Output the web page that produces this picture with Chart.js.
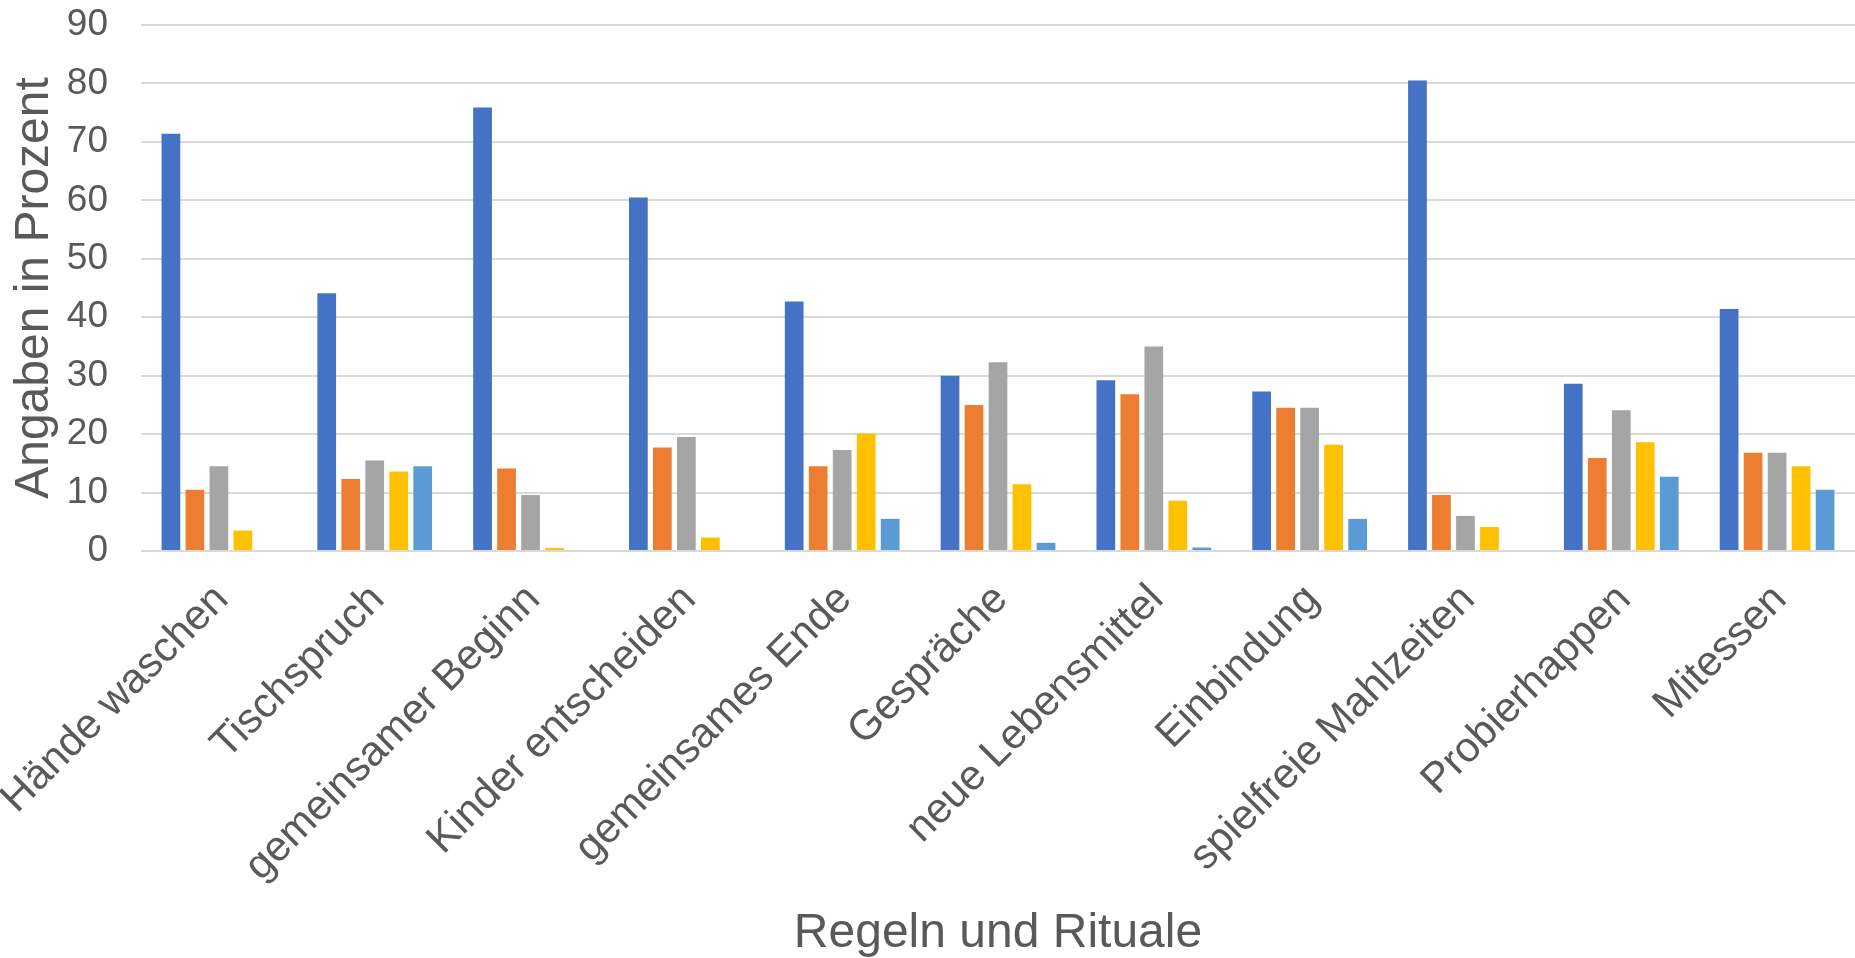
<!DOCTYPE html>
<html>
<head>
<meta charset="utf-8">
<script src="https://cdn.jsdelivr.net/npm/chart.js@4"></script>
<style>
  html, body { margin: 0; padding: 0; background: #fff; }
  #wrap { width: 1855px; height: 958px; position: relative; }
</style>
</head>
<body>
<div id="wrap"><canvas id="chart"></canvas></div>
<script>
  // Werte in Prozent, pro Kategorie fuenf Balken
  const categories = [
    "Hände waschen", "Tischspruch", "gemeinsamer Beginn", "Kinder entscheiden",
    "gemeinsames Ende", "Gespräche", "neue Lebensmittel", "Einbindung",
    "spielfreie Mahlzeiten", "Probierhappen", "Mitessen"
  ];
  const series1 = [71.4, 44.1, 75.9, 60.5, 42.7, 30.0, 29.2, 27.3, 80.5, 28.6, 41.4];
  const series2 = [10.5, 12.3, 14.1, 17.7, 14.5, 25.0, 26.8, 24.5, 9.6, 15.9, 16.8];
  const series3 = [14.5, 15.5, 9.6, 19.5, 17.3, 32.3, 35.0, 24.5, 6.0, 24.1, 16.8];
  const series4 = [3.5, 13.6, 0.5, 2.3, 20.1, 11.4, 8.6, 18.2, 4.1, 18.6, 14.5];
  const series5 = [0, 14.5, 0, 0, 5.5, 1.4, 0.6, 5.5, 0, 12.7, 10.5];
  const seriesNames = ["Reihe 1", "Reihe 2", "Reihe 3", "Reihe 4", "Reihe 5"];
  const seriesColors = ["#4472C4", "#ED7D31", "#A5A5A5", "#FFC000", "#5B9BD5"];

  const FONT = "'Liberation Sans', Arial, sans-serif";
  const TEXT = "#595959";

  const allSeries = [series1, series2, series3, series4, series5];

  new Chart(document.getElementById("chart"), {
    type: "bar",
    data: {
      labels: categories,
      datasets: allSeries.map(function (values, i) {
        return {
          label: seriesNames[i],
          data: values,
          backgroundColor: seriesColors[i],
          borderWidth: 0,
          barPercentage: 0.78,
          categoryPercentage: 0.77,
        };
      }),
    },
    options: {
      responsive: true,
      maintainAspectRatio: false,
      animation: false,
      layout: { padding: 0 },
      plugins: { legend: { display: false }, tooltip: { enabled: false } },
      scales: {
        x: {
          grid: { display: false },
          border: { display: false },
          ticks: {
            color: TEXT,
            font: { family: FONT, size: 42 },
            minRotation: 45,
            maxRotation: 45,
            padding: 16,
            labelOffset: 3,
          },
          title: {
            display: true,
            text: "Regeln und Rituale",
            color: TEXT,
            font: { family: FONT, size: 48, lineHeight: 1.0 },
            padding: { top: 0, bottom: 0 },
          },
          afterFit: function (scale) {
            // the first slanted label may run off the left edge, as in the original
            scale.height = 407;
            scale.paddingLeft = 0;
            scale.paddingRight = 0;
          },
        },
        y: {
          min: 0,
          max: 90,
          grid: { color: "#D9D9D9", lineWidth: 2, drawTicks: false },
          border: { display: false },
          ticks: {
            stepSize: 10,
            color: TEXT,
            font: { family: FONT, size: 37 },
            padding: 33,
          },
          title: {
            display: true,
            text: "Angaben in Prozent",
            color: TEXT,
            font: { family: FONT, size: 48 },
            padding: { top: 6, bottom: 0 },
          },
          afterFit: function (scale) {
            // plot area: 90-line at y=25, left edge at x=141
            scale.width = 141;
            scale.paddingTop = 25;
            scale.paddingBottom = 0;
          },
        },
      },
    },
  });
</script>
</body>
</html>
